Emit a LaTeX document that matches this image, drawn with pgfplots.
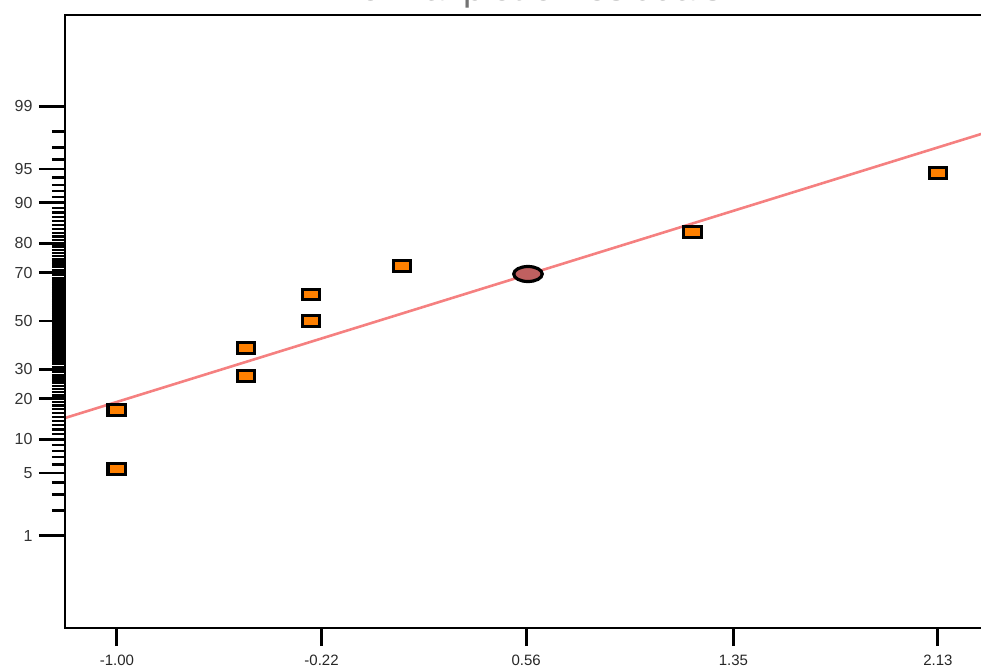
\documentclass[border=0pt]{standalone}
\usepackage{fontspec}
\setmainfont{Liberation Sans}
\usepackage{pgfplots}
\pgfplotsset{compat=1.18}
\definecolor{mkorange}{RGB}{255,128,0}
\definecolor{fitred}{RGB}{245,128,128}
\definecolor{ellfill}{RGB}{192,96,96}
\begin{document}
\begin{tikzpicture}
\useasboundingbox (-65pt,-41pt) rectangle (916pt,628pt);
\clip (-65pt,-41pt) rectangle (916pt,628pt);
\begin{axis}[
  at={(0,0)}, anchor=south west,
  scale only axis, width=922.8pt, height=613pt,
  xmin=-1.198, xmax=2.32, ymin=-3.326, ymax=3.315,
  axis line style={draw=none},
  tick align=outside,
  xtick pos=bottom, ytick pos=left,
  xtick={-1,-0.22,0.56,1.35,2.13},
  xticklabels={-1.00,-0.22,0.56,1.35,2.13},
  ytick={-2.3263,-1.6449,-1.2816,-0.8416,-0.5244,0,0.5244,0.8416,1.2816,1.6449,2.3263},
  yticklabels={1,5,10,20,30,50,70,80,90,95,99},
  minor ytick={-2.0537,-1.8808,-1.7507,-1.5548,-1.4758,-1.4051,-1.3408,-1.2265,-1.1750,-1.1264,-1.0803,-1.0364,-0.9945,-0.9542,-0.9154,-0.8779,-0.8064,-0.7722,-0.7388,-0.7063,-0.6745,-0.6433,-0.6128,-0.5828,-0.5534,-0.4959,-0.4677,-0.4399,-0.4125,-0.3853,-0.3585,-0.3319,-0.3055,-0.2793,-0.2533,-0.2275,-0.2019,-0.1764,-0.1510,-0.1257,-0.1004,-0.0753,-0.0502,-0.0251,
   0.0251,0.0502,0.0753,0.1004,0.1257,0.1510,0.1764,0.2019,0.2275,0.2533,0.2793,0.3055,0.3319,0.3585,0.3853,0.4125,0.4399,0.4677,0.4959,0.5534,0.5828,0.6128,0.6433,0.6745,0.7063,0.7388,0.7722,0.8064,0.8779,0.9154,0.9542,0.9945,1.0364,1.0803,1.1264,1.1750,1.2265,1.3408,1.4051,1.4758,1.5548,1.7507,1.8808,2.0537},
  major tick length=26pt, minor tick length=13pt,
  x tick style={line width=3pt, black, /pgfplots/major tick length=18pt},
  every major y tick/.style={line width=2.6pt, black},
  every minor y tick/.style={line width=2.3pt, black},
  yticklabel style={font=\fontsize{16}{16}\selectfont, text=black!80, xshift=-3pt},
  xticklabel style={font=\fontsize{15}{15}\selectfont, text=black!85, yshift=3pt},
  clip=false,
]
\addplot[color=fitred, line width=2.6pt] coordinates {(-1.198,-1.051) (2.32,2.048)};
\addplot[only marks, mark=square*, mark size=5.2pt, line width=3.2pt,
  mark options={xscale=1.7, fill=mkorange, draw=black, line width=3.2pt}]
  coordinates {
  (-1.00,-0.964) (-1.00,-1.603)
  (-0.508,-0.596) (-0.508,-0.2925)
  (-0.260,0.0) (-0.260,0.287)
  (0.0866,0.596) (1.194,0.964) (2.13,1.603)};
\addplot[only marks, mark=*, mark size=7.5pt, line width=3.2pt,
  mark options={xscale=1.9, fill=ellfill, draw=black, line width=3.2pt}]
  coordinates {(0.567,0.509)};
\end{axis}
\draw[line width=2.8pt, line join=miter] (930pt,613pt) -- (0pt,613pt) -- (0pt,0pt) -- (930pt,0pt);
\node[anchor=base, font=\fontsize{37}{37}\selectfont, text=black!55] at (463pt,627pt) {Normal plot of residuals};
\end{tikzpicture}
\end{document}
